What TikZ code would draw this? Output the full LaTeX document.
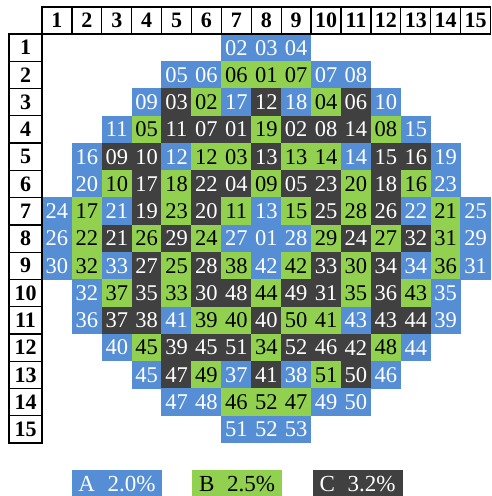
\documentclass[tikz,border=0pt]{standalone}
\usepackage{fontspec}
\setmainfont{Liberation Serif}
\definecolor{ca}{HTML}{558ED5}
\definecolor{cb}{HTML}{92D050}
\definecolor{cc}{HTML}{404040}
\colorlet{ta}{white}
\colorlet{tb}{black}
\colorlet{tc}{white}
\begin{document}
\begin{tikzpicture}[x=1pt,y=-1pt,
  cell/.style={inner sep=0pt, minimum width=30.2pt, minimum height=27.6pt,
    font=\fontsize{22.5}{22.5}\selectfont},
  hdr/.style={draw=black, line width=1.3pt, inner sep=0pt,
    font=\fontsize{22}{22}\selectfont\bfseries},
  legbox/.style={inner sep=0pt, minimum width=90pt, minimum height=27.3pt,
    font=\fontsize{23}{23}\selectfont}]
\useasboundingbox (0,0) rectangle (491,496);
\foreach \r/\s/\L in {
  1/7/{a/02,a/03,a/04},
  2/5/{a/05,a/06,b/06,b/01,b/07,a/07,a/08},
  3/4/{a/09,c/03,b/02,a/17,c/12,a/18,b/04,c/06,a/10},
  4/3/{a/11,b/05,c/11,c/07,c/01,b/19,c/02,c/08,c/14,b/08,a/15},
  5/2/{a/16,c/09,c/10,a/12,b/12,b/03,c/13,b/13,b/14,a/14,c/15,c/16,a/19},
  6/2/{a/20,b/10,c/17,b/18,c/22,c/04,b/09,c/05,c/23,b/20,c/18,b/16,a/23},
  7/1/{a/24,b/17,a/21,c/19,b/23,c/20,b/11,a/13,b/15,c/25,b/28,c/26,a/22,b/21,a/25},
  8/1/{a/26,b/22,c/21,b/26,c/29,b/24,a/27,a/01,a/28,b/29,c/24,b/27,c/32,b/31,a/29},
  9/1/{a/30,b/32,a/33,c/27,b/25,c/28,b/38,a/42,b/42,c/33,b/30,c/34,a/34,b/36,a/31},
  10/2/{a/32,b/37,c/35,b/33,c/30,c/48,b/44,c/49,c/31,b/35,c/36,b/43,a/35},
  11/2/{a/36,c/37,c/38,a/41,b/39,b/40,c/40,b/50,b/41,a/43,c/43,c/44,a/39},
  12/3/{a/40,b/45,c/39,c/45,c/51,b/34,c/52,c/46,c/42,b/48,a/44},
  13/4/{a/45,c/47,b/49,a/37,c/41,a/38,b/51,c/50,a/46},
  14/5/{a/47,a/48,b/46,b/52,b/47,a/49,a/50},
  15/7/{a/51,a/52,a/53}}{
  \foreach \k/\v [count=\i from 0] in \L {
    \pgfmathtruncatemacro{\c}{\s+\i}
    \node[cell, fill=c\k, text=t\k] (n\r-\c) at ({42+29.9*\c-14.95},{34+27.27*\r-13.635}) {\v};
  }
}
\foreach \c in {1,...,15}
  \node[hdr, minimum width=29.9pt, minimum height=27pt] (h\c) at ({42+29.9*\c-14.95},20.5) {\c};
\foreach \r in {1,...,15}
  \node[hdr, minimum width=33pt, minimum height=27.27pt] (v\r) at (25.5,{34+27.27*\r-13.635}) {\r};
\node[legbox, fill=ca, text=ta] (la) at (117,484) {A\hspace{0.55em}2.0\%};
\node[legbox, fill=cb, text=tb] (lb) at (237,484) {B\hspace{0.55em}2.5\%};
\node[legbox, fill=cc, text=tc] (lc) at (357.5,484) {C\hspace{0.55em}3.2\%};
\end{tikzpicture}
\end{document}
